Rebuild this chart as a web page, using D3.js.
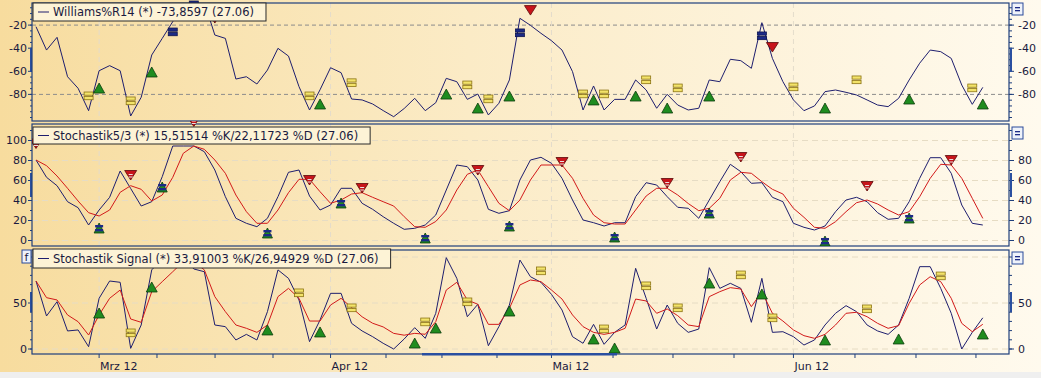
<!DOCTYPE html>
<html>
<head>
<meta charset="utf-8">
<script src="https://cdn.jsdelivr.net/npm/d3@7"></script>
<style>
  body { margin: 0; background: #eeeeee; }
  svg { display: block; }
  text { font-family: "DejaVu Sans", Verdana, sans-serif; font-size: 11px; fill: #1a1a40; }
  .legend text { font-size: 11.5px; }
</style>
</head>
<body>
<svg id="chart" width="1041" height="378"></svg>
<script>
// ---- data (one value per trading day, 22.02. - 27.06.2012) ----
const willR = [-21.4,-41.6,-30.6,-64.7,-74.7,-94.1,-59.5,-55.1,-59.5,-98.7,-82.5,-45.9,-31.5,-17,-1,0,0,-28.6,-31.5,-66.7,
  -64.7,-71,-58.9,-40.1,-46.8,-73.3,-93.5,-76,-56.9,-61.2,-84,-84.8,-88.3,-94,-99.3,-92.2,-83.4,-94.1,-87.2,-66.1,
  -69,-84.3,-79.7,-97.8,-87.7,-67.5,-14.1,-20.2,-27.1,-33.5,-41.6,-60.3,-93.5,-72.7,-93.5,-84.3,-84.3,-67.5,-76.2,-92,
  -79.9,-89.2,-93.5,-92,-67.5,-69,-49.6,-50.8,-57.4,-17.9,-48.8,-69,-84.8,-94.1,-90,-77.6,-76.2,-78.2,-80.5,-84.8,
  -89.2,-90.6,-83.4,-67.5,-53,-41.6,-43,-48.8,-71.9,-88.6,-73.9];

const stochK = [80.5,63.2,54.8,38.8,32.8,15.5,30.5,43.2,69.5,52,34.5,38.8,63.8,94.5,94.5,94.5,88.8,70.5,43.8,22.2,
  17.2,13.8,22.2,43.8,68.2,70.5,44.5,30.5,35.5,52.2,52.2,37.2,31.2,23.8,17.2,11.2,12.2,15.5,25.5,50.5,
  75.5,73.8,60.5,31.2,27.2,29.8,60.5,80.5,83.2,77.2,62.2,40.5,20.5,17.8,14.5,17.8,17.8,43.8,57.8,55.5,
  43.8,33.2,32.2,22.2,40.5,58.8,76.2,68.8,57.2,57.8,43.2,38.8,17.2,13.2,10.5,14.5,28.8,40.5,43.2,38.8,
  27.8,21.2,22.2,38.8,62.2,82.8,82.8,67.2,35.5,17.2,15.5];
const stochD = [80.5,74.8,64.5,52.2,39.5,27.8,24.5,30.5,48.2,54.8,51.2,39.5,45.5,63.2,87.2,94.5,91.2,80.5,67.2,45.5,
  28.8,17.2,17.2,30.5,47.8,61.2,61.2,48.8,37.2,40.5,46.5,47.8,43.2,38.8,34.5,23.8,13.8,13.2,19,30.5,
  50.5,66.2,70.5,53.8,37.2,29.8,40.5,60.5,75.5,75.5,75.5,62.2,42.2,25.5,17.8,16.5,16.5,30.5,44.5,52.2,
  52.2,45.5,37,29.8,32.2,42.2,60.5,68.2,67.2,58.8,51.2,46.5,32.2,23.2,13.2,12.2,18.8,28.8,37.8,40.5,
  36.5,30.5,25.5,28.8,43.8,62.2,76.2,75.5,62.2,42.2,22.1];

const signalK = [73.9,35.9,51.4,19.6,20.7,2.5,55.1,73.9,72.5,0.7,26.1,86,98,100,100,87,84,26.1,24.3,9.8,
  15.9,9.8,40.6,86,76.8,53.3,8,31.5,60.5,60.5,27.9,19.6,13.4,6.2,0,10.9,23.2,11.6,38.8,99.3,
  76.8,35.1,48.6,3.6,24.3,47.8,96.7,78.6,72.5,59.4,42.4,13.4,6.2,26.8,5.1,18.1,26.1,87.7,55.1,21.7,
  47.8,27.9,18.1,21.7,88.4,65.9,71.4,65.9,29,76.8,18.1,18.8,13.4,4.3,9.8,26.1,38.8,47.1,40.6,26.1,
  19.6,15.9,26.1,55.1,89.5,89.5,65.9,38.8,0,18.1,33.9];
const signalD = [73.9,55.8,53.3,37,29.7,15.2,37,55.1,64.1,32.6,29,62.3,73.2,84,95,95,86,56.9,40.6,26.1,
  22.5,18.1,26.1,56.9,65.9,55.1,30.4,30.4,47.8,55.1,45,35,28,24,17,15,17,16,29.7,64.1,
  72.5,53.3,48.6,26.8,26.8,44.2,69.6,75,73.2,64.1,54.3,37,24.3,18.1,15.9,18.1,22.5,54.3,52.2,38.8,
  43.5,36.2,26.1,24.3,56.9,62.3,66.7,65.2,46,62.3,38.8,30.4,20.7,14.5,11.6,15.9,26.1,38.8,39.9,35.1,
  27.9,22.5,25.4,49.6,69.6,78.6,73.2,55.1,27.9,18.8,26.9];

// signal markers: [day index, value where the symbol sits]
const willBuy = [[6,-74.5],[11,-60.6],[27,-88.3],[39,-79.7],[42,-91.8],[45,-81.4],[53,-84.8],[57,-81.4],[60,-91.8],
  [64,-81.4],[75,-91.8],[83,-84],[90,-88.3]];
const willSell = [[17,-13.9],[47,-7],[70,-39]];
const willNeutral = [[5,-81.4],[9,-85.7],[26,-81.4],[30,-70],[41,-71.9],[43,-84],[52,-79.7],[54,-79.7],[58,-67.5],
  [61,-74.5],[72,-73.6],[78,-67.5],[89,-74.5]];
const willExit = [[13,-26],[15,-2.6],[46,-26.8],[69,-29.4]];

const stochSell = [[0,97],[9,65.5],[15,119],[26,60.5],[31,52.5],[42,70.5],[50,78.5],[60,57.5],[67,83.5],[79,54.5],[87,80.5]];
const stochBuy = [[6,12.5],[12,53.5],[22,7.5],[29,37.5],[37,2.5],[45,14.5],[55,3.5],[64,27.5],[75,-0.5],[83,22.5]];

const signalBuy = [[6,39.1],[11,67.4],[22,20.7],[27,18.5],[36,6.5],[38,22.8],[45,41.3],[53,10.9],[55,1.1],
  [64,71.7],[69,59.8],[75,9.8],[82,10.9],[90,16.3]];
const signalNeutral = [[9,17.4],[25,60.9],[30,44.6],[37,29.3],[41,51.1],[48,84.8],[54,21.7],[58,68.5],[61,44.6],
  [67,80.4],[70,33.7],[79,43.5],[86,79.3]];

// time axis (day index of month starts and of the quarter-month ticks)
const monthTicks = [6, 28, 49, 72];
const monthLabels = ['Mrz 12', 'Apr 12', 'Mai 12', 'Jun 12'];
const minorTicks = [11.5, 17.02, 22.53, 33.27, 38.59, 43.82, 54.85, 60.55, 66.35, 77.85, 83.65, 89.35];

const legendTexts = [
  'Williams%R14 (*) -73,8597 (27.06)',
  'Stochastik5/3 (*) 15,51514 %K/22,11723 %D (27.06)',
  'Stochastik Signal (*) 33,91003 %K/26,94929 %D (27.06)'
];

// ---- layout ----
const svg = d3.select('#chart');
const left = 32, right = 1009;
const navy = '#1e1e6e', red = '#d21a1a', frameCol = '#1f3f7c';

const x = d3.scaleLinear().domain([0, 90]).range([36, 982.8]);

const panels = [
  { top: 3, bottom: 121, y: d3.scaleLinear().domain([0, -100]).range([2, 117.5]),
    ticksL: [-20, -40, -60, -80], ticksR: [-20, -40, -60, -80], minor: d3.range(-100, 0, 5),
    handle: [48, 72] },
  { top: 124, bottom: 246, y: d3.scaleLinear().domain([0, 100]).range([240.5, 140.5]),
    ticksL: [0, 20, 40, 60, 80, 100], ticksR: [0, 20, 40, 60, 80], minor: d3.range(0, 111, 10),
    handle: [173, 197] },
  { top: 250, bottom: 354, y: d3.scaleLinear().domain([0, 100]).range([349, 257]),
    ticksL: [0, 50], ticksR: [0, 50], minor: d3.range(0, 101, 10),
    handle: [292, 312] }
];

// background gradient
const defs = svg.append('defs');
const grad = defs.append('linearGradient').attr('id', 'bg').attr('x1', 0).attr('x2', 1).attr('y1', 0).attr('y2', 0);
grad.append('stop').attr('offset', 0).attr('stop-color', '#f7dc9e');
grad.append('stop').attr('offset', 0.45).attr('stop-color', '#fbebc6');
grad.append('stop').attr('offset', 1).attr('stop-color', '#fffaee');
svg.append('rect').attr('width', 1041).attr('height', 372).attr('fill', 'url(#bg)');
svg.append('rect').attr('y', 372).attr('width', 1041).attr('height', 6).attr('fill', '#efefef');

panels.forEach((p, k) => {
  defs.append('clipPath').attr('id', 'clip' + k)
    .append('rect').attr('x', left).attr('y', p.top).attr('width', right - left).attr('height', p.bottom - p.top);
  defs.append('clipPath').attr('id', 'mclip' + k)
    .append('rect').attr('x', left).attr('y', p.top - 3).attr('width', right - left).attr('height', p.bottom - p.top + 3);
});

// markers
function drawMarker(g, type, cx, cy) {
  const m = g.append('g').attr('transform', `translate(${cx},${cy})`);
  if (type === 'buy') {
    m.append('path').attr('d', 'M0,-5L5.5,5L-5.5,5Z').attr('fill', '#1f8c1f').attr('stroke', '#0c3c0c').attr('stroke-width', 0.8);
  } else if (type === 'sell') {
    m.append('path').attr('d', 'M-6,-4.5L6,-4.5L0,5Z').attr('fill', '#c8141a').attr('stroke', '#5a0808').attr('stroke-width', 0.8);
  } else if (type === 'sellmark') {
    m.append('path').attr('d', 'M-6,-4.5L6,-4.5L0,5Z').attr('fill', '#c8141a').attr('stroke', '#5a0808').attr('stroke-width', 0.8);
    [-1, 1.5].forEach(dy => m.append('rect').attr('x', -2).attr('y', dy).attr('width', 4).attr('height', 1)
      .attr('fill', '#e8e0e0'));
  } else if (type === 'neutral' || type === 'exit') {
    const fill = type === 'neutral' ? '#f3e36a' : '#1c2a86';
    const stroke = type === 'neutral' ? '#8c7414' : '#0e1450';
    [-4, 0.5].forEach(dy => m.append('rect').attr('x', -4.5).attr('y', dy).attr('width', 9).attr('height', 3.2)
      .attr('fill', fill).attr('stroke', stroke).attr('stroke-width', 0.8));
  } else if (type === 'stack') {
    m.append('path').attr('d', 'M0,-5L5,5L-5,5Z').attr('fill', '#1f8c1f').attr('stroke', '#0c3c0c').attr('stroke-width', 0.8);
    [-3, 1].forEach(dy => m.append('rect').attr('x', -4).attr('y', dy).attr('width', 8).attr('height', 2.4)
      .attr('fill', '#1c2a86'));
  }
}

const lineFor = (p) => d3.line().x((d, i) => x(i)).y(d => p.y(d));

panels.forEach((p, k) => {
  const g = svg.append('g');
  // horizontal grid
  if (k === 0) {
    g.selectAll('.hg').data([-20, -80]).enter().append('line')
      .attr('x1', left).attr('x2', right).attr('y1', d => p.y(d)).attr('y2', d => p.y(d))
      .attr('stroke', '#8c8c8c').attr('stroke-dasharray', '4,3');
  } else {
    g.selectAll('.hg').data(k === 1 ? [0, 20, 40, 60, 80, 100] : [0, 50, 100]).enter().append('line')
      .attr('x1', left).attr('x2', right).attr('y1', d => p.y(d)).attr('y2', d => p.y(d))
      .attr('stroke', '#e6dcc4').attr('stroke-dasharray', '6,4');
  }
  // vertical grid at month starts
  g.selectAll('.vg').data(monthTicks).enter().append('line')
    .attr('x1', d => x(d)).attr('x2', d => x(d)).attr('y1', p.top).attr('y2', p.bottom)
    .attr('stroke', '#e4dccb').attr('stroke-dasharray', '5,4');

  // series
  const lg = g.append('g').attr('clip-path', `url(#clip${k})`);
  const series = k === 0 ? [[willR, navy]] : k === 1 ? [[stochK, navy], [stochD, red]] : [[signalK, navy], [signalD, red]];
  series.forEach(([vals, col]) => {
    lg.append('path').datum(vals).attr('d', lineFor(p)).attr('fill', 'none').attr('stroke', col).attr('stroke-width', 1);
  });

  // left / right axes
  const axL = svg.append('g');
  axL.selectAll('.mn').data(p.minor.filter(v => p.y(v) > p.top && p.y(v) < p.bottom)).enter().append('line')
    .attr('x1', left - 2).attr('x2', left).attr('y1', d => p.y(d)).attr('y2', d => p.y(d)).attr('stroke', frameCol);
  axL.selectAll('.mnr').data(p.minor.filter(v => p.y(v) > p.top && p.y(v) < p.bottom)).enter().append('line')
    .attr('x1', right).attr('x2', right + 3).attr('y1', d => p.y(d)).attr('y2', d => p.y(d)).attr('stroke', frameCol);
  axL.selectAll('.tl').data(p.ticksL).enter().append('line')
    .attr('x1', left - 4).attr('x2', left).attr('y1', d => p.y(d)).attr('y2', d => p.y(d)).attr('stroke', frameCol);
  axL.selectAll('.tr').data(p.ticksR).enter().append('line')
    .attr('x1', right).attr('x2', right + 5).attr('y1', d => p.y(d)).attr('y2', d => p.y(d)).attr('stroke', frameCol);
  axL.selectAll('.ll').data(p.ticksL).enter().append('text')
    .attr('x', left - 5).attr('y', d => p.y(d)).attr('dy', '0.36em').attr('text-anchor', 'end').text(d => d);
  axL.selectAll('.lr').data(p.ticksR).enter().append('text')
    .attr('x', right + 9).attr('y', d => p.y(d)).attr('dy', '0.36em').text(d => d);
  // scroll handles
  axL.append('rect').attr('x', left - 2).attr('y', p.handle[0]).attr('width', 2).attr('height', p.handle[1] - p.handle[0]).attr('fill', '#2a4fa0');
  axL.append('rect').attr('x', right + 1).attr('y', p.handle[0]).attr('width', 2).attr('height', p.handle[1] - p.handle[0]).attr('fill', '#2a4fa0');

  // frame
  svg.append('rect').attr('x', left).attr('y', p.top).attr('width', right - left).attr('height', p.bottom - p.top)
    .attr('fill', 'none').attr('stroke', frameCol).attr('stroke-width', 1.2);

  // markers
  const mg = svg.append('g').attr('clip-path', `url(#mclip${k})`);
  const sets = k === 0 ? [[willNeutral, 'neutral'], [willExit, 'exit'], [willBuy, 'buy'], [willSell, 'sell']]
    : k === 1 ? [[stochBuy, 'stack'], [stochSell, 'sellmark']]
    : [[signalNeutral, 'neutral'], [signalBuy, 'buy']];
  sets.forEach(([arr, type]) => arr.forEach(([i, v]) => drawMarker(mg, type, x(i), p.y(v))));

  // legend box
  const lgd = svg.append('g').attr('class', 'legend');
  const ly = [3, 127, 249][k], lh = [18, 17, 19][k];
  const box = lgd.append('rect').attr('x', 33).attr('y', ly).attr('height', lh)
    .attr('fill', '#fdf3d6').attr('stroke', '#2a2a2a').attr('stroke-width', 1);
  lgd.append('line').attr('x1', 38).attr('x2', 49).attr('y1', ly + lh / 2).attr('y2', ly + lh / 2).attr('stroke', navy);
  const t = lgd.append('text').attr('x', 53).attr('y', ly + lh / 2).attr('dy', '0.36em').text(legendTexts[k]);
  box.attr('width', t.node().getComputedTextLength() + 32);

  // "=" button
  const by = [3, 127, 252][k];
  const btn = svg.append('g').attr('transform', `translate(1012,${by})`);
  btn.append('rect').attr('width', 11).attr('height', 12).attr('fill', '#eef2fa').attr('stroke', '#2a4a9a');
  btn.append('rect').attr('x', 3).attr('y', 4).attr('width', 5).attr('height', 1.3).attr('fill', '#1c2a86');
  btn.append('rect').attr('x', 3).attr('y', 7).attr('width', 5).attr('height', 1.3).attr('fill', '#1c2a86');
});

// "f" button of the lowest panel
const fb = svg.append('g').attr('transform', 'translate(22,250)');
fb.append('rect').attr('width', 9).attr('height', 13).attr('fill', '#eef2fa').attr('stroke', '#2a4a9a');
fb.append('text').attr('x', 4.5).attr('y', 10.5).attr('text-anchor', 'middle').style('font-size', '11px').text('f');

// time axis
const axisY = panels[2].bottom;
svg.selectAll('.wt').data(minorTicks.concat(monthTicks)).enter().append('line')
  .attr('x1', d => x(d)).attr('x2', d => x(d)).attr('y1', axisY).attr('y2', axisY + 4).attr('stroke', frameCol);
svg.selectAll('.ml').data(monthTicks).enter().append('text')
  .attr('x', d => x(d) + 1).attr('y', 370).text((d, i) => monthLabels[i]);
svg.append('rect').attr('x', 422).attr('y', axisY - 1).attr('width', 195).attr('height', 2.5).attr('fill', '#2a4fa0');
</script>
</body>
</html>
